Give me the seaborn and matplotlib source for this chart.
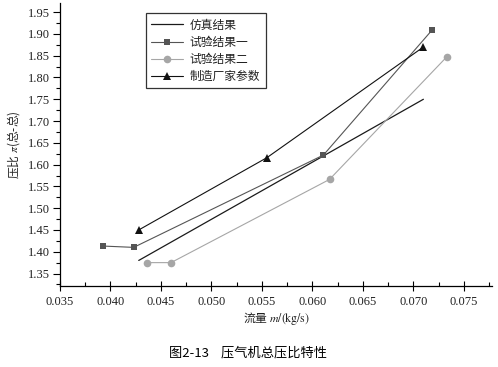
import matplotlib
matplotlib.use("Agg")
import matplotlib.pyplot as plt
import seaborn as sns
from matplotlib.ticker import MultipleLocator

# 数据
sim_x = [0.0428, 0.0611, 0.0710]
sim_y = [1.380, 1.620, 1.750]

test1_x = [0.0393, 0.0423, 0.0611, 0.0719]
test1_y = [1.413, 1.410, 1.622, 1.910]

test2_x = [0.0436, 0.0460, 0.0617, 0.0733]
test2_y = [1.375, 1.375, 1.566, 1.847]

maker_x = [0.0428, 0.0555, 0.0710]
maker_y = [1.450, 1.616, 1.870]

labels = ["仿真结果", "试验结果一", "试验结果二", "制造厂家参数"]

sns.set_theme(style="ticks")
cjk = ["Noto Sans CJK SC", "DejaVu Sans"]
plt.rcParams["font.family"] = cjk
plt.rcParams["mathtext.fontset"] = "stix"

fig = plt.figure(figsize=(4.98, 3.67), dpi=100)
ax = fig.add_axes([0.1205, 0.2215, 0.8675, 0.7703])

sns.lineplot(x=sim_x, y=sim_y, ax=ax, color="#1a1a1a", linewidth=0.9,
             sort=False, label=labels[0])
sns.lineplot(x=test1_x, y=test1_y, ax=ax, color="#555555", linewidth=0.8,
             marker="s", markersize=5, markeredgewidth=0, sort=False, label=labels[1])
sns.lineplot(x=test2_x, y=test2_y, ax=ax, color="#a6a6a6", linewidth=0.8,
             marker="o", markersize=5.5, markeredgewidth=0, sort=False, label=labels[2])
sns.lineplot(x=maker_x, y=maker_y, ax=ax, color="#111111", linewidth=0.8,
             marker="^", markersize=6, markeredgewidth=0, sort=False, label=labels[3])

ax.set_xlim(0.035, 0.0778)
ax.set_ylim(1.322, 1.971)
ax.xaxis.set_major_locator(MultipleLocator(0.005))
ax.xaxis.set_minor_locator(MultipleLocator(0.0025))
ax.yaxis.set_major_locator(MultipleLocator(0.05))
ax.yaxis.set_minor_locator(MultipleLocator(0.025))
ax.xaxis.set_major_formatter(plt.FormatStrFormatter("%.3f"))
ax.yaxis.set_major_formatter(plt.FormatStrFormatter("%.2f"))

for s in ["top", "right"]:
    ax.spines[s].set_visible(False)
for s in ["left", "bottom"]:
    ax.spines[s].set_linewidth(0.9)
    ax.spines[s].set_color("black")

ax.tick_params(axis="x", which="major", direction="inout", length=7, width=0.8, color="black", pad=4)
ax.tick_params(axis="x", which="minor", direction="in", length=3, width=0.8, color="black")
ax.tick_params(axis="y", which="major", direction="out", length=5, width=0.8, color="black", pad=2)
ax.tick_params(axis="y", which="minor", direction="out", length=3, width=0.8, color="black")
ax.tick_params(axis="both", which="major", labelsize=9, labelcolor="#222222",
               labelfontfamily="Liberation Serif")

ax.set_xlabel("流量 $m/(\\mathrm{kg/s})$", fontsize=8.5, color="#222222")
ax.set_ylabel("压比 $\\pi$(总-总)", fontsize=8.5, color="#222222")
ax.xaxis.set_label_coords(0.5, -0.085)
ax.yaxis.set_label_coords(-0.088, 0.5)

leg = ax.legend(loc="upper left", bbox_to_anchor=(0.198, 0.9636), borderaxespad=0,
                fancybox=False, frameon=True, edgecolor="black", fontsize=8.5,
                handlelength=2.7, handletextpad=0.6, labelspacing=0.35,
                borderpad=0.45)
leg.get_frame().set_linewidth(0.9)
for t in leg.get_texts():
    t.set_color("#222222")

fig.text(0.498, 0.038, "图2-13    压气机总压比特性", ha="center", va="center",
         fontsize=9.5, color="black")

fig.savefig("out.png", dpi=100)
